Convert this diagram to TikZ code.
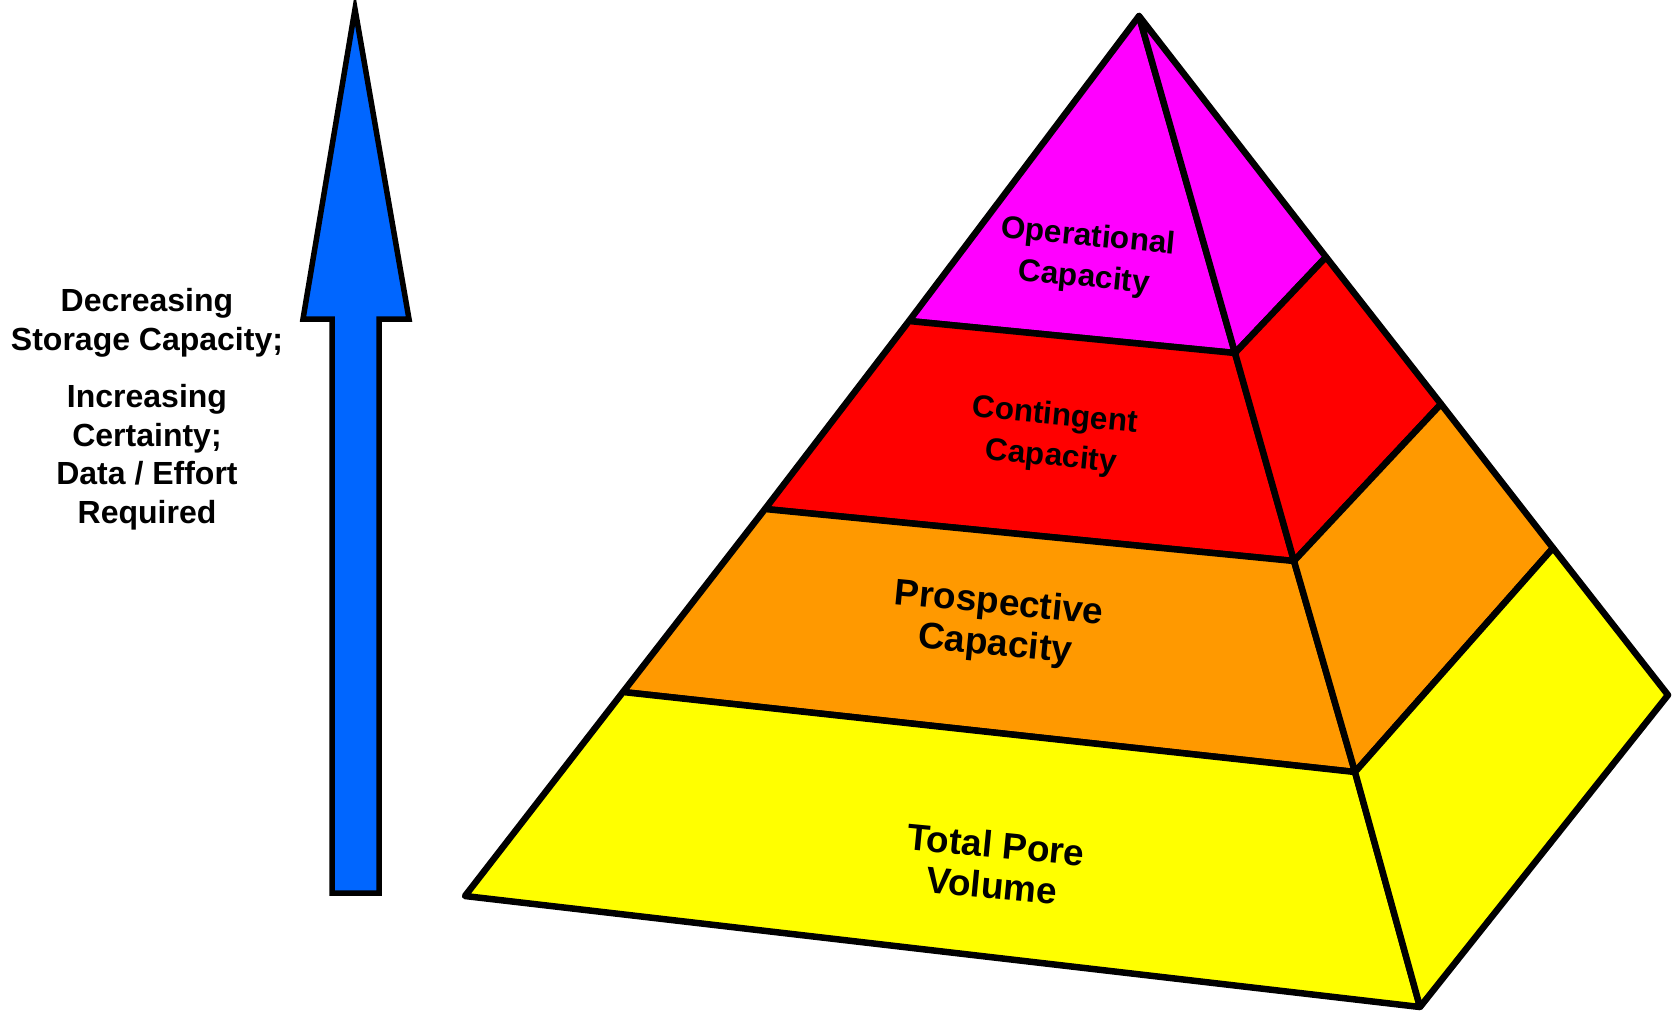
\documentclass[tikz,border=0pt]{standalone}
\usepackage{fontspec}
\setmainfont{Liberation Sans}
\usepackage{tikz}
\usetikzlibrary{positioning}
\definecolor{opmagenta}{HTML}{FF00FF}
\definecolor{contred}{HTML}{FF0000}
\definecolor{prosporange}{HTML}{FF9900}
\definecolor{poreyellow}{HTML}{FFFF00}
\definecolor{arrowblue}{HTML}{0066FF}
\tikzstyle{tier} = [draw, line width=6.5pt, line join=round]
\tikzstyle{tierlabel} = [font=\bfseries\fontsize{31.5}{41}\selectfont, align=center, rotate=-5.5]
\tikzstyle{biglabel} = [tierlabel, font=\bfseries\fontsize{37}{41}\selectfont]
\tikzstyle{sidetext} = [font=\bfseries\fontsize{32}{38.5}\selectfont, align=center, inner sep=0pt]

\begin{document}
\begin{tikzpicture}[x=1pt, y=-1pt]
    \useasboundingbox (0,0) rectangle (1677,1015);

    % Corners of the pyramid
    \coordinate (apex) at (1139,16);
    \coordinate (l1) at (909,321);
    \coordinate (l2) at (765,509);
    \coordinate (l3) at (623,692);
    \coordinate (l4) at (465,896);
    \coordinate (f1) at (1235,353);
    \coordinate (f2) at (1294,561);
    \coordinate (f3) at (1355,772);
    \coordinate (f4) at (1420,1007);
    \coordinate (r1) at (1326,257);
    \coordinate (r2) at (1441,404);
    \coordinate (r3) at (1553,548);
    \coordinate (r4) at (1668,695);

    % Draw faces
    \path [tier, fill=opmagenta] (apex) -- (l1) -- (f1) -- cycle;
    \path [tier, fill=opmagenta] (apex) -- (f1) -- (r1) -- cycle;
    \path [tier, fill=contred] (l1) -- (l2) -- (f2) -- (f1) -- cycle;
    \path [tier, fill=contred] (f1) -- (f2) -- (r2) -- (r1) -- cycle;
    \path [tier, fill=prosporange] (l2) -- (l3) -- (f3) -- (f2) -- cycle;
    \path [tier, fill=prosporange] (f2) -- (f3) -- (r3) -- (r2) -- cycle;
    \path [tier, fill=poreyellow] (l3) -- (l4) -- (f4) -- (f3) -- cycle;
    \path [tier, fill=poreyellow] (f3) -- (f4) -- (r4) -- (r3) -- cycle;

    % Place nodes
    \node [tierlabel] (operational) at (1086,258) {Operational\\Capacity};
    \node [tierlabel] (contingent) at (1053,437) {Contingent\\Capacity};
    \node [biglabel] (prospective) at (997,625) {Prospective\\Capacity};
    \node [biglabel] (totalpore) at (994,865) {Total Pore\\Volume};

    % Arrow
    \coordinate (tip) at (355,9);
    \path [draw, fill=arrowblue, line width=5.5pt, line join=miter]
        (tip) -- (409,319) -- (379,319) -- (379,893) -- (332,893)
        -- (332,319) -- (303,319) -- cycle;

    \node [sidetext] (decreasing) at (147,323) {Decreasing\\Storage Capacity;};
    \node [sidetext, below=27pt of decreasing] (increasing) {Increasing\\Certainty;\\Data / Effort\\Required};
\end{tikzpicture}
\end{document}
